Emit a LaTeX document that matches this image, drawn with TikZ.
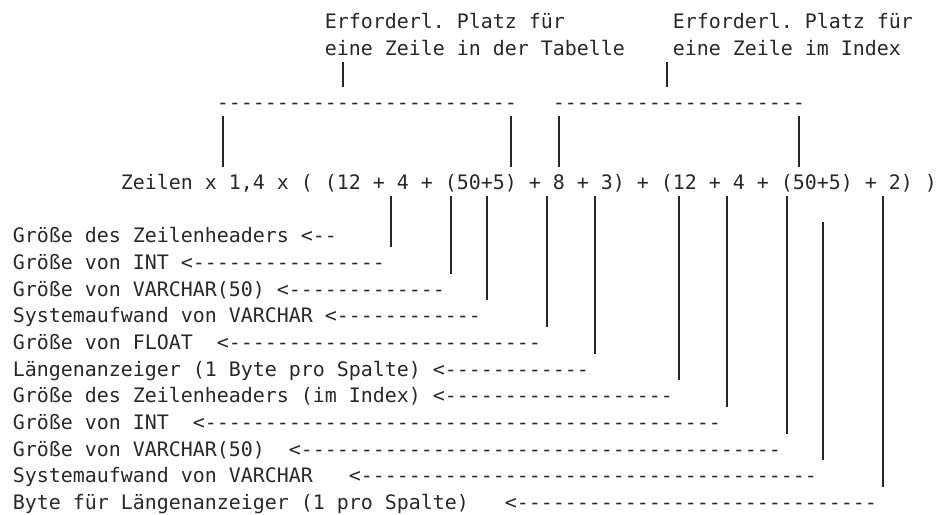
\documentclass[tikz,border=0pt]{standalone}
\usepackage{fontspec}
\usepackage{tikz}
\newfontfamily\asciifont{DejaVu Sans Mono}
\definecolor{ink}{RGB}{40,40,40}
\ExplSyntaxOn
\NewDocumentCommand\dashrun{m}{\prg_replicate:nn{#1}{-\kern0pt}}
\ExplSyntaxOff

\begin{document}
\frenchspacing
\begin{tikzpicture}[x=9pt,y=-20.025pt,
    every node/.style={inner sep=0pt,anchor=base west,text=ink,
      font=\asciifont\fontsize{14.95}{20}\selectfont},
    bar/.style={draw=ink,line width=1.5pt}]
  \useasboundingbox (-1.042,-1.086) rectangle (77.04,18.20);
  % Kopf: zwei Klammern
  \node (tab1) at (26,0) {Erforderl. Platz für};
  \node (tab2) at (26,1) {eine Zeile in der Tabelle};
  \node (idx1) at (55,0) {Erforderl. Platz für};
  \node (idx2) at (55,1) {eine Zeile im Index};
  \node (tabline) at (17,3) {\dashrun{25}};
  \node (idxline) at (45,3) {\dashrun{21}};
  \foreach \c/\a/\b in {27/2/2,54/2/2,17/4/5,41/4/5,45/4/5,65/4/5}
    \draw[bar] (\c+.5,\a-.76) -- (\c+.5,\b+.16);
  % Formel
  \node (formel) at (9,6) {Zeilen x 1,4 x ( (12 + 4 + (50+5) + 8 + 3) + (12 + 4 + (50+5) + 2) )};
  \foreach \c/\a/\b in {31/7/8,36/7/9,39/7/10,44/7/11,48/7/12,55/7/13,59/7/14,64/7/15,67/8/16,72/7/17}
    \draw[bar] (\c+.5,\a-.76) -- (\c+.5,\b+.16);
  % Beschriftungen
  \foreach \r/\txt/\c/\n in {8/Größe des Zeilenheaders/24/2,
      9/Größe von INT/14/16,
      10/Größe von VARCHAR(50)/22/13,
      11/Systemaufwand von VARCHAR/26/12,
      12/Größe von FLOAT/17/26,
      13/Längenanzeiger (1 Byte pro Spalte)/35/12,
      14/Größe des Zeilenheaders (im Index)/35/19,
      15/Größe von INT/15/43,
      16/Größe von VARCHAR(50)/23/40,
      17/Systemaufwand von VARCHAR/28/38,
      18/Byte für Längenanzeiger (1 pro Spalte)/41/30}{
    \node (lbl\r) at (0,\r) {\txt};
    \node (pfeil\r) at (\c,\r) {<\dashrun{\n}};
  }
\end{tikzpicture}
\end{document}
